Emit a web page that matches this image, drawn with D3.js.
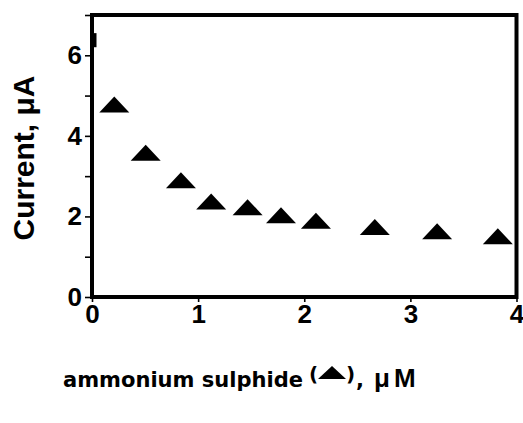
<!DOCTYPE html>
<html>
<head>
<meta charset="utf-8">
<script src="https://cdn.jsdelivr.net/npm/d3@7"></script>
<style>
  html, body { margin: 0; padding: 0; background: #fff; }
  svg { display: block; }
</style>
</head>
<body>
<svg id="chart" width="523" height="423"></svg>
<script>
// Concentration of ammonium sulphide (µM) and measured current (µA)
const concentration = [0.21, 0.506, 0.838, 1.123, 1.466, 1.781, 2.11, 2.665, 3.252, 3.824];
const current = [4.78, 3.58, 2.90, 2.37, 2.23, 2.03, 1.89, 1.74, 1.63, 1.51];
const xTickValues = [0, 1, 2, 3, 4];
const yTickValues = [0, 1, 2, 3, 4, 5, 6, 7];
const yTickLabels = ["0", "", "2", "", "4", "", "6", ""];

const svg = d3.select("#chart");
const plotLeft = 92, plotRight = 516.5, plotTop = 15, plotBottom = 297;

const x = d3.scaleLinear().domain([0, 4]).range([plotLeft, plotRight]);
const y = d3.scaleLinear().domain([0, 7]).range([plotBottom, plotTop]);

// Y axis: ticks every unit, labels on even values
const yAxis = d3.axisLeft(y).tickValues(yTickValues)
  .tickFormat((d, i) => yTickLabels[i]).tickSize(7).tickPadding(3);
const gy = svg.append("g").attr("transform", `translate(${plotLeft},0)`).call(yAxis);
gy.select(".domain").remove();
gy.selectAll(".tick line").attr("stroke", "#000").attr("stroke-width", 1.6);
gy.selectAll(".tick text")
  .attr("font-family", "Liberation Sans, Arial, sans-serif")
  .attr("font-weight", "bold").attr("font-size", 26).attr("fill", "#000");

// X axis
const xAxis = d3.axisBottom(x).tickValues(xTickValues).tickFormat(d3.format("d"))
  .tickSize(5).tickPadding(3);
const gx = svg.append("g").attr("transform", `translate(0,${plotBottom})`).call(xAxis);
gx.select(".domain").remove();
gx.selectAll(".tick line").attr("stroke", "#000").attr("stroke-width", 1.6);
gx.selectAll(".tick text")
  .attr("font-family", "Liberation Sans, Arial, sans-serif")
  .attr("font-weight", "bold").attr("font-size", 26).attr("fill", "#000");

// Plot frame
svg.append("rect")
  .attr("x", x(0)).attr("y", y(7))
  .attr("width", x(4) - x(0)).attr("height", y(0) - y(7))
  .attr("fill", "none").attr("stroke", "#000").attr("stroke-width", 4);

// Short mark near the top of the left axis
svg.append("line")
  .attr("x1", x(0) + 3).attr("x2", x(0) + 3)
  .attr("y1", y(6.55)).attr("y2", y(6.2))
  .attr("stroke", "#000").attr("stroke-width", 3);

// Triangle markers
const triW = 30, triH = 16;
svg.append("g").selectAll("path")
  .data(concentration.map((c, i) => [c, current[i]]))
  .join("path")
  .attr("d", d => {
    const cx = x(d[0]), cy = y(d[1]);
    return `M${cx - triW / 2},${cy + triH / 2}L${cx},${cy - triH / 2}L${cx + triW / 2},${cy + triH / 2}Z`;
  })
  .attr("fill", "#000");

// Y axis title
svg.append("text")
  .attr("transform", `translate(34,158) rotate(-90)`)
  .attr("text-anchor", "middle")
  .attr("font-family", "Liberation Sans, Arial, sans-serif")
  .attr("font-weight", "bold").attr("font-size", 30).attr("fill", "#000")
  .text("Current, \u03BCA");

// X axis title
const xt = svg.append("g");
xt.append("text")
  .attr("x", 63).attr("y", 387)
  .attr("font-family", "DejaVu Sans, sans-serif")
  .attr("font-weight", "bold").attr("font-size", 21).attr("fill", "#000")
  .attr("textLength", 240).attr("lengthAdjust", "spacingAndGlyphs")
  .text("ammonium sulphide");
xt.append("text")
  .attr("x", 309).attr("y", 381)
  .attr("font-family", "DejaVu Sans, sans-serif")
  .attr("font-weight", "bold").attr("font-size", 20).attr("fill", "#000")
  .text("(");
xt.append("path")
  .attr("d", "M318,379L332,366L346,379Z").attr("fill", "#000");
xt.append("text")
  .attr("x", 346).attr("y", 381)
  .attr("font-family", "DejaVu Sans, sans-serif")
  .attr("font-weight", "bold").attr("font-size", 20).attr("fill", "#000")
  .text(")");
xt.append("text")
  .attr("x", 356).attr("y", 387)
  .attr("font-family", "DejaVu Sans, sans-serif")
  .attr("font-weight", "bold").attr("font-size", 21).attr("fill", "#000")
  .text(",");
xt.append("text")
  .attr("x", 374).attr("y", 387)
  .attr("font-family", "Liberation Sans, Arial, sans-serif")
  .attr("font-weight", "bold").attr("font-size", 26).attr("fill", "#000")
  .attr("letter-spacing", 4)
  .text("\u03BCM");
</script>
</body>
</html>
